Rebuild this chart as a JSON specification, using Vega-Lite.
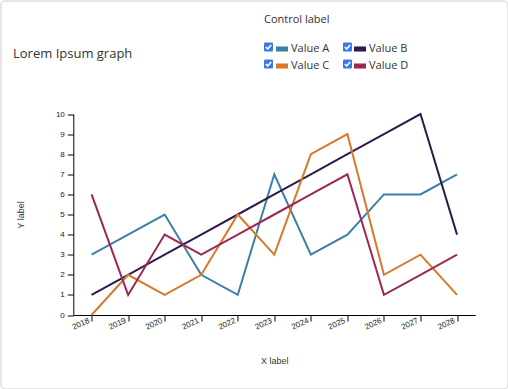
{
  "$schema": "https://vega.github.io/schema/vega-lite/v6.json",
  "width": 507,
  "height": 388,
  "autosize": "none",
  "padding": {"left": 0.5, "top": 0.5, "right": 0.5, "bottom": 0.5},
  "background": "#ffffff",
  "config": {
    "view": {"stroke": "#cccccc", "strokeWidth": 1, "cornerRadius": 4},
    "font": "Liberation Sans"
  },
  "title": {
    "text": "Lorem Ipsum graph",
    "anchor": "start",
    "frame": "group",
    "dx": 12.5,
    "dy": 64,
    "font": "Open Sans",
    "fontSize": 13,
    "fontWeight": "normal",
    "color": "#333333"
  },
  "data": {
    "values": [
      {"year": "2018", "series": "Value A", "value": 3},
      {"year": "2019", "series": "Value A", "value": 4},
      {"year": "2020", "series": "Value A", "value": 5},
      {"year": "2021", "series": "Value A", "value": 2},
      {"year": "2022", "series": "Value A", "value": 1},
      {"year": "2023", "series": "Value A", "value": 7},
      {"year": "2024", "series": "Value A", "value": 3},
      {"year": "2025", "series": "Value A", "value": 4},
      {"year": "2026", "series": "Value A", "value": 6},
      {"year": "2027", "series": "Value A", "value": 6},
      {"year": "2028", "series": "Value A", "value": 7},
      {"year": "2018", "series": "Value B", "value": 1},
      {"year": "2019", "series": "Value B", "value": 2},
      {"year": "2020", "series": "Value B", "value": 3},
      {"year": "2021", "series": "Value B", "value": 4},
      {"year": "2022", "series": "Value B", "value": 5},
      {"year": "2023", "series": "Value B", "value": 6},
      {"year": "2024", "series": "Value B", "value": 7},
      {"year": "2025", "series": "Value B", "value": 8},
      {"year": "2026", "series": "Value B", "value": 9},
      {"year": "2027", "series": "Value B", "value": 10},
      {"year": "2028", "series": "Value B", "value": 4},
      {"year": "2018", "series": "Value C", "value": 0},
      {"year": "2019", "series": "Value C", "value": 2},
      {"year": "2020", "series": "Value C", "value": 1},
      {"year": "2021", "series": "Value C", "value": 2},
      {"year": "2022", "series": "Value C", "value": 5},
      {"year": "2023", "series": "Value C", "value": 3},
      {"year": "2024", "series": "Value C", "value": 8},
      {"year": "2025", "series": "Value C", "value": 9},
      {"year": "2026", "series": "Value C", "value": 2},
      {"year": "2027", "series": "Value C", "value": 3},
      {"year": "2028", "series": "Value C", "value": 1},
      {"year": "2018", "series": "Value D", "value": 6},
      {"year": "2019", "series": "Value D", "value": 1},
      {"year": "2020", "series": "Value D", "value": 4},
      {"year": "2021", "series": "Value D", "value": 3},
      {"year": "2022", "series": "Value D", "value": 4},
      {"year": "2023", "series": "Value D", "value": 5},
      {"year": "2024", "series": "Value D", "value": 6},
      {"year": "2025", "series": "Value D", "value": 7},
      {"year": "2026", "series": "Value D", "value": 1},
      {"year": "2027", "series": "Value D", "value": 2},
      {"year": "2028", "series": "Value D", "value": 3}
    ]
  },
  "mark": {"type": "line", "strokeWidth": 2},
  "encoding": {
    "x": {
      "field": "year",
      "type": "ordinal",
      "scale": {"type": "point", "range": [72.8, 474.8], "padding": 0.5},
      "axis": {
        "orient": "bottom",
        "offset": -73.5,
        "title": "X label",
        "titleFont": "Liberation Sans",
        "titleFontSize": 9,
        "titleFontWeight": "normal",
        "titleColor": "#333333",
        "titlePadding": 25,
        "labelAngle": -25,
        "labelAlign": "right",
        "labelBaseline": "middle",
        "labelFontSize": 8,
        "labelColor": "#222222",
        "labelPadding": -1,
        "labelOffset": -3,
        "tickSize": 6,
        "tickColor": "#000000",
        "domainColor": "#000000",
        "grid": false
      }
    },
    "y": {
      "field": "value",
      "type": "quantitative",
      "scale": {"domain": [0, 10], "range": [314.5, 113.5], "nice": false},
      "axis": {
        "orient": "left",
        "offset": -72.8,
        "values": [0, 1, 2, 3, 4, 5, 6, 7, 8, 9, 10],
        "title": "Y label",
        "titleFont": "Liberation Sans",
        "titleFontSize": 9,
        "titleFontWeight": "normal",
        "titleColor": "#333333",
        "titlePadding": 30,
        "labelFontSize": 8,
        "labelColor": "#222222",
        "labelPadding": 3,
        "tickSize": 6,
        "tickColor": "#000000",
        "domainColor": "#000000",
        "grid": false
      }
    },
    "color": {
      "field": "series",
      "type": "nominal",
      "scale": {
        "domain": ["Value A", "Value B", "Value C", "Value D"],
        "range": ["#3a7fa5", "#2e1a4c", "#d9782b", "#9c2953"]
      },
      "legend": {
        "orient": "none",
        "direction": "horizontal",
        "legendX": 275.5,
        "legendY": 42.5,
        "title": null,
        "columns": 2,
        "columnPadding": 24,
        "rowPadding": 6,
        "symbolType": "M-1,-0.42H1V0.42H-1Z",
        "symbolSize": 144,
        "symbolStrokeWidth": 0,
        "labelOffset": 3,
        "labelFont": "Open Sans",
        "labelFontSize": 11,
        "labelColor": "#333333",
        "encode": {
          "symbols": {"update": {"fill": {"scale": "color", "field": "value"}, "strokeWidth": {"value": 0}}}
        }
      }
    },
    "opacity": {
      "field": "series",
      "type": "ordinal",
      "scale": {"range": [1, 1]},
      "legend": {
        "orient": "none",
        "direction": "horizontal",
        "legendX": 263.5,
        "legendY": 13.5,
        "title": "Control label",
        "titleFont": "Open Sans",
        "titleFontSize": 11,
        "titleFontWeight": "normal",
        "titleColor": "#333333",
        "titlePadding": 16,
        "columns": 2,
        "columnPadding": 64,
        "rowPadding": 6,
        "symbolType": "M-0.8,-0.75H0.3Q0.5,-0.75 0.5,-0.55V0.55Q0.5,0.75 0.3,0.75H-0.8Q-1,0.75 -1,0.55V-0.55Q-1,-0.75 -0.8,-0.75Z M-0.79,0.12L-0.36,0.5L0.3,-0.23L0.1,-0.41L-0.38,0.14L-0.61,-0.08Z",
        "symbolSize": 144,
        "symbolStrokeWidth": 0,
        "labelOffset": 3,
        "labelFont": "Open Sans",
        "labelFontSize": 11,
        "labelExpr": "''",
        "encode": {
          "symbols": {"update": {"fill": {"value": "#3b78e7"}, "stroke": {"value": "transparent"}, "strokeWidth": {"value": 0}, "opacity": {"value": 1}}}
        }
      }
    }
  }
}
